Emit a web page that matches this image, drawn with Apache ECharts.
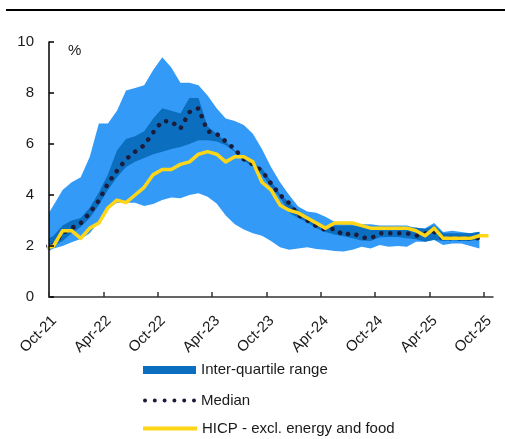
<!DOCTYPE html>
<html>
<head>
<meta charset="utf-8">
<title>Core inflation dispersion</title>
<script src="https://cdn.jsdelivr.net/npm/echarts@6/dist/echarts.min.js"></script>
<style>
html, body {margin: 0; padding: 0; background: #fff;}
#container {width: 505px; height: 439px;}
</style>
</head>
<body>
<div id="container"></div>
<script>
// monthly values, first entry is Sep-21 (one month before the Oct-21 tick)
var firstMonth = -1;
var maxRange = [3.0, 3.6, 4.2, 4.5, 4.7, 5.5, 6.8, 6.8, 7.3, 8.1, 8.2, 8.3, 8.9, 9.4, 9.0, 8.4, 8.4, 8.3, 7.9, 7.4, 7.0, 6.9, 6.75, 6.4, 5.8, 5.1, 4.5, 4.0, 3.55, 3.35, 3.3, 3.15, 2.95, 2.9, 2.9, 2.85, 2.85, 2.8, 2.8, 2.8, 2.8, 2.7, 2.7, 2.9, 2.55, 2.6, 2.55, 2.5, 2.55];
var minRange = [1.7, 1.9, 2.0, 2.15, 2.27, 2.5, 2.95, 3.45, 3.7, 3.7, 3.7, 3.57, 3.65, 3.8, 3.9, 3.87, 4.0, 4.07, 3.93, 3.67, 3.2, 2.85, 2.65, 2.5, 2.4, 2.2, 1.95, 1.85, 1.9, 1.95, 1.88, 1.85, 1.8, 1.78, 1.85, 1.97, 1.9, 2.04, 1.97, 2.0, 1.97, 2.17, 2.17, 2.24, 2.04, 2.1, 2.1, 2.0, 1.9];
var upperQuartile = [2.2, 2.4, 2.8, 3.0, 3.1, 3.5, 4.1, 4.8, 5.75, 6.2, 6.3, 6.5, 7.0, 7.4, 7.3, 7.2, 7.8, 7.8, 6.7, 6.4, 6.1, 5.75, 5.45, 5.25, 5.05, 4.55, 4.05, 3.7, 3.4, 3.15, 2.9, 2.72, 2.8, 2.8, 2.8, 2.78, 2.75, 2.75, 2.75, 2.74, 2.73, 2.73, 2.67, 2.8, 2.5, 2.5, 2.5, 2.5, 2.56];
var lowerQuartile = [1.95, 2.0, 2.2, 2.5, 2.75, 3.1, 3.6, 4.2, 4.7, 5.1, 5.3, 5.45, 5.6, 5.7, 5.8, 5.88, 6.0, 6.15, 6.15, 6.1, 5.95, 5.7, 5.35, 5.1, 4.8, 4.3, 3.9, 3.3, 3.1, 2.93, 2.7, 2.55, 2.45, 2.38, 2.3, 2.22, 2.2, 2.34, 2.35, 2.35, 2.3, 2.26, 2.17, 2.25, 2.2, 2.23, 2.2, 2.2, 2.26];
var median = [2.0, 2.05, 2.5, 2.7, 2.9, 3.3, 3.78, 4.45, 4.95, 5.4, 5.7, 5.95, 6.45, 6.9, 6.88, 6.6, 7.25, 7.4, 6.5, 6.4, 6.1, 5.8, 5.4, 5.2, 4.95, 4.45, 4.0, 3.68, 3.22, 3.0, 2.78, 2.63, 2.68, 2.42, 2.52, 2.33, 2.3, 2.5, 2.5, 2.5, 2.5, 2.4, 2.5, 2.55, 2.3, 2.3, 2.3, 2.3, 2.3];
var hicpCore = [1.9, 2.0, 2.6, 2.6, 2.3, 2.7, 2.9, 3.5, 3.8, 3.7, 4.0, 4.3, 4.8, 5.0, 5.0, 5.2, 5.3, 5.6, 5.7, 5.6, 5.3, 5.5, 5.5, 5.3, 4.5, 4.2, 3.6, 3.4, 3.3, 3.1, 2.9, 2.7, 2.9, 2.9, 2.9, 2.8, 2.7, 2.7, 2.7, 2.7, 2.7, 2.6, 2.4, 2.7, 2.3, 2.3, 2.3, 2.3, 2.4, 2.4];

// ticks every six months, months counted from Oct-21
var tickMonths = [0, 6, 12, 18, 24, 30, 36, 42, 48];
var tickLabels = ['Oct-21', 'Apr-22', 'Oct-22', 'Apr-23', 'Oct-23', 'Apr-24', 'Oct-24', 'Apr-25', 'Oct-25'];

var LIGHT = '#339bf7';
var DARK = '#0b6ebf';
var NAVY = '#1b1b3a';
var YELLOW = '#ffd617';
var FONT = 'Liberation Sans';

// each monthly value sits in the middle of its month
function toPoints(values) {
    var pts = [];
    for (var i = 0; i < values.length; i++) {
        pts.push([firstMonth + i + 0.5, values[i]]);
    }
    return pts;
}

// value first so the stack is done on y (x is a value axis too)
function toStackPoints(values) {
    var pts = [];
    for (var i = 0; i < values.length; i++) {
        pts.push([values[i], firstMonth + i + 0.5]);
    }
    return pts;
}

function diff(top, bottom) {
    var out = [];
    for (var i = 0; i < top.length; i++) {
        out.push(Math.round((top[i] - bottom[i]) * 1000) / 1000);
    }
    return out;
}

function bandBase(name, values, stack) {
    return {
        name: name, type: 'line', stack: stack, data: toStackPoints(values),
        encode: {x: 1, y: 0},
        symbol: 'none', silent: true,
        lineStyle: {width: 0, opacity: 0}
    };
}

function bandFill(name, values, stack, color, z) {
    return {
        name: name, type: 'line', stack: stack, data: toStackPoints(values), z: z,
        encode: {x: 1, y: 0},
        symbol: 'none', silent: true,
        lineStyle: {width: 0, opacity: 0},
        itemStyle: {color: color},
        areaStyle: {color: color, opacity: 1}
    };
}

var legendText = {fontFamily: FONT, fontSize: 15, color: '#1a1a1a'};

var dotsIcon = 'path://';
for (var k = 0; k < 6; k++) {
    dotsIcon += 'M' + (k * 9.8) + ',2a2,2 0 1,0 4,0a2,2 0 1,0 -4,0';
}

var dom = document.getElementById('container');
var myChart = echarts.init(dom);
var option = {
    animation: false,
    textStyle: {fontFamily: FONT},
    grid: {left: 49, right: 12, top: 42, bottom: 142, containLabel: false, outerBoundsMode: 'none'},
    xAxis: {
        type: 'value',
        min: 0,
        max: 49,
        interval: 6,
        z: 10,
        splitLine: {show: false},
        axisLine: {lineStyle: {color: '#333', width: 1.5}},
        axisTick: {show: true, inside: true, length: 5, customValues: tickMonths, lineStyle: {color: '#333', width: 1.5}},
        axisLabel: {
            customValues: tickMonths,
            rotate: 45,
            verticalAlign: 'top',
            margin: 16,
            fontSize: 15,
            color: '#1a1a1a',
            formatter: function (v) {
                return tickLabels[Math.round(v / 6)] || '';
            }
        }
    },
    yAxis: {
        type: 'value',
        min: 0,
        max: 10,
        interval: 2,
        z: 10,
        splitLine: {show: false},
        axisLine: {show: true, lineStyle: {color: '#000', width: 1.5}},
        axisTick: {show: true, inside: true, length: 5, lineStyle: {color: '#000', width: 1.5}},
        axisLabel: {fontSize: 15, color: '#1a1a1a', margin: 15}
    },
    legend: [
        {
            left: 143, top: 362.5, padding: 0, selectedMode: false,
            itemWidth: 53, itemHeight: 8, icon: 'rect',
            textStyle: legendText,
            data: [{name: 'Inter-quartile range', itemStyle: {color: DARK, borderWidth: 0}}]
        },
        {
            left: 143, top: 393, padding: 0, selectedMode: false,
            itemWidth: 53, itemHeight: 4, icon: dotsIcon,
            textStyle: legendText,
            data: [{name: 'Median', itemStyle: {color: NAVY, borderWidth: 0}}]
        },
        {
            left: 143, top: 421, padding: 0, selectedMode: false,
            itemWidth: 54, itemHeight: 4, icon: 'rect',
            textStyle: legendText,
            data: [{name: 'HICP - excl. energy and food', itemStyle: {color: YELLOW, borderWidth: 0}}]
        }
    ],
    graphic: [
        {type: 'rect', left: 6, top: 9, shape: {width: 499, height: 2}, style: {fill: '#000'}},
        {type: 'text', left: 68, top: 43, style: {text: '%', fontFamily: FONT, fontSize: 15, fill: '#1a1a1a'}}
    ],
    series: [
        bandBase('Minimum', minRange, 'range'),
        bandFill('Range', diff(maxRange, minRange), 'range', LIGHT, 1),
        bandBase('Lower quartile', lowerQuartile, 'iqr'),
        bandFill('Inter-quartile range', diff(upperQuartile, lowerQuartile), 'iqr', DARK, 2),
        {
            name: 'Median',
            type: 'line',
            data: toPoints(median),
            z: 5,
            symbol: 'none',
            itemStyle: {color: NAVY},
            lineStyle: {color: NAVY, width: 4.5, type: [0.1, 8.9], cap: 'round'}
        },
        {
            name: 'HICP - excl. energy and food',
            type: 'line',
            data: toPoints(hicpCore),
            z: 6,
            symbol: 'none',
            itemStyle: {color: YELLOW},
            lineStyle: {color: YELLOW, width: 3.5, join: 'round'}
        }
    ]
};
if (option && typeof option === 'object') {
    myChart.setOption(option, true);
}
</script>
</body>
</html>
